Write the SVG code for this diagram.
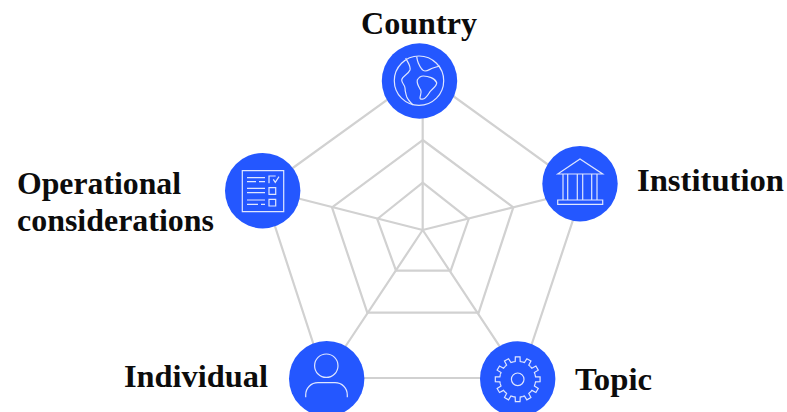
<svg xmlns="http://www.w3.org/2000/svg" xmlns:xlink="http://www.w3.org/1999/xlink" width="787" height="412" viewBox="0 0 787 412">
<style>
.w{fill:none;stroke:#d1d1d1;stroke-width:2.2}
.n{fill:#2457ff}
.i{fill:none;stroke:#dfe6ff;stroke-width:1.2}
text{font-family:"Liberation Serif",serif;font-weight:700;font-size:31.5px;fill:#0c0c0c}
</style>
<defs>
<path id="tooth" d="M-4.66-17.39-2.5-17.82-2.35-22.38H2.35L2.5-17.82 4.66-17.39"/>
</defs>
<rect width="787" height="412" fill="#fff"/>
<g id="connectors">
<path class="w" d="M422.700 182.700 468.700 219 450.700 270.700H396L377.300 219Z"/>
<path class="w" d="M422.700 140 513.300 207.300 478.700 312.700H367.300L332 207.300Z"/>
<path class="w" d="M422.700 74 583 190 520.500 378H324.500L263 189.500Z"/>
<path class="w" d="M422.700 74V230M583 190 422.700 230M520.500 378 422.700 230M324.500 378 422.700 230M263 189.500 422.700 230"/>
</g>
<g id="country"><circle class="n" cx="419.500" cy="81" r="37.700"/>
<circle class="i" cx="419" cy="80.700" r="24.700"/>
<path class="i" d="M405.700 58C408 63 411 66 410 70C408 75 402 76 401.700 80C402 84 405 85 405 88C405 92 406 94 406.700 96.700C408 100 411 103 413 105M416.700 56.700C417 59 417.500 61 418.300 63C420 67 422 71 425 71C428 71 430 69 433 68C436 67 438 66.500 440 66M417.300 80C419 77 421 76 423.300 76C428 76 435 78 436.700 82.700C437 86 432 89 430 91.700C428 95 426 98 423.300 99C421 99.500 420 99 420 98C420 95 422 93 420.700 90C419 87 416.500 84 417.300 80Z"/>
<text x="361" y="34" textLength="116" lengthAdjust="spacingAndGlyphs">Country</text></g>
<g id="institution"><circle class="n" cx="580" cy="183.700" r="37.700"/>
<path class="i" d="M557.700 174 580 159 602.700 174ZM563 174V199.700M567.700 174V199.700M577.300 174V199.700M582.700 174V199.700M591.700 174V199.700M597 174V199.700M557.700 200H602.700V204.300H557.700Z"/>
<text x="637" y="191" textLength="147" lengthAdjust="spacingAndGlyphs">Institution</text></g>
<g id="topic"><circle class="n" cx="517.700" cy="379" r="37.700"/>
<circle class="i" cx="517.700" cy="379.300" r="6.300"/>
<g class="i" transform="translate(517.700 379.300)">
<use xlink:href="#tooth"/><use xlink:href="#tooth" transform="rotate(30)"/><use xlink:href="#tooth" transform="rotate(60)"/><use xlink:href="#tooth" transform="rotate(90)"/><use xlink:href="#tooth" transform="rotate(120)"/><use xlink:href="#tooth" transform="rotate(150)"/><use xlink:href="#tooth" transform="rotate(180)"/><use xlink:href="#tooth" transform="rotate(210)"/><use xlink:href="#tooth" transform="rotate(240)"/><use xlink:href="#tooth" transform="rotate(270)"/><use xlink:href="#tooth" transform="rotate(300)"/><use xlink:href="#tooth" transform="rotate(330)"/>
</g>
<text x="575" y="390" textLength="77" lengthAdjust="spacingAndGlyphs">Topic</text></g>
<g id="individual"><circle class="n" cx="326.700" cy="378.700" r="37.700"/>
<circle class="i" cx="326.300" cy="365.700" r="11.700"/>
<path class="i" d="M305.700 397.300V395C305.700 388 311 382.700 318 382.700H335C342 382.700 347.300 388 347.300 395V397.300"/>
<text x="124" y="387" textLength="144" lengthAdjust="spacingAndGlyphs">Individual</text></g>
<g id="operational"><circle class="n" cx="262.700" cy="190.700" r="37.700"/>
<path class="i" d="M242.300 170.700H283.700V211.700H242.300ZM247 177.700H265M247 181.700H256M259 181.700H265M247 188.300H265M247 192.700H265M247 200H265M247 204.300H258M261 204.300H265M269 183.300V176H275.700M269 187.700H275.700V194.300H269ZM269 199.300H275.700V206H269ZM273.300 179.300 275.300 182.300 279 176.700"/>
<text x="17" y="194" textLength="164" lengthAdjust="spacingAndGlyphs">Operational</text>
<text x="17" y="231" textLength="197" lengthAdjust="spacingAndGlyphs">considerations</text></g>
</svg>
